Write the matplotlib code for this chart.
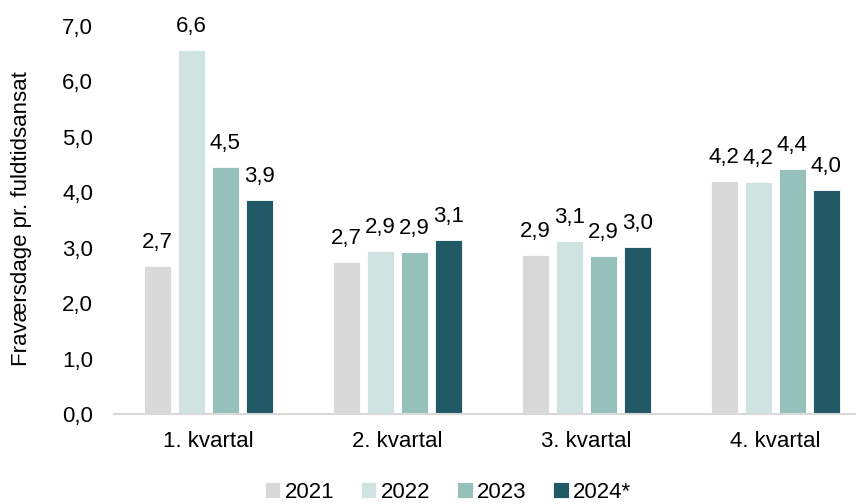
import matplotlib
matplotlib.use("Agg")
import matplotlib.pyplot as plt
import numpy as np

categories = ["1. kvartal", "2. kvartal", "3. kvartal", "4. kvartal"]
series_names = ["2021", "2022", "2023", "2024*"]
values = {
    "2021": [2.67, 2.74, 2.87, 4.21],
    "2022": [6.57, 2.94, 3.12, 4.18],
    "2023": [4.46, 2.92, 2.85, 4.42],
    "2024*": [3.86, 3.14, 3.01, 4.04],
}
colors = ["#D9D9D9", "#CFE4E1", "#96C0BA", "#215A66"]
yticks = [0, 1, 2, 3, 4, 5, 6, 7]
ylabel = "Fraværsdage pr. fuldtidsansat"

plt.rcParams["font.family"] = ["Liberation Sans", "DejaVu Sans"]
FS = 16

fig = plt.figure(figsize=(8.56, 5.04), dpi=100)
ax = fig.add_axes([114 / 856, 1 - 414 / 504, (856 - 114) / 856, (414 - 26) / 504])

x = np.arange(len(categories))
pitch = 0.18
width = 0.143
for i, (name, col) in enumerate(zip(series_names, colors)):
    offs = (i - 1.5) * pitch
    vals = values[name]
    bars = ax.bar(x + offs, vals, width=width, color=col, edgecolor="white",
                  linewidth=0.6, label=name, zorder=2)
    for b, v in zip(bars, vals):
        ax.annotate(f"{v:.1f}".replace(".", ","),
                    (b.get_x() + b.get_width() / 2, b.get_height()),
                    xytext=(0, 17), textcoords="offset points",
                    ha="center", va="center", fontsize=FS, clip_on=False,
                    annotation_clip=False)

ax.set_xlim(-0.5, 3 + (856 - 775) / 189)
ax.set_ylim(0, 7)
ax.set_yticks(yticks)
ax.set_yticklabels([f"{t:.1f}".replace(".", ",") for t in yticks], fontsize=FS)
ax.set_xticks(x)
ax.set_xticklabels(categories, fontsize=FS)
ax.tick_params(axis="both", length=0)
ax.tick_params(axis="y", pad=15)
ax.tick_params(axis="x", pad=12)
for s in ["top", "right", "left"]:
    ax.spines[s].set_visible(False)
ax.spines["bottom"].set_color("#D9D9D9")
ax.spines["bottom"].set_linewidth(1.5)

fig.text(22 / 856, 1 - 219 / 504, ylabel, rotation=90, ha="center", va="center", fontsize=FS)

fig.legend(loc="center", bbox_to_anchor=(448 / 856, 1 - 492 / 504), ncol=4,
           frameon=False, fontsize=FS, handlelength=0.7, handleheight=0.7,
           handletextpad=0.2, columnspacing=1.2, borderaxespad=0)

fig.savefig("out.png", dpi=100)
